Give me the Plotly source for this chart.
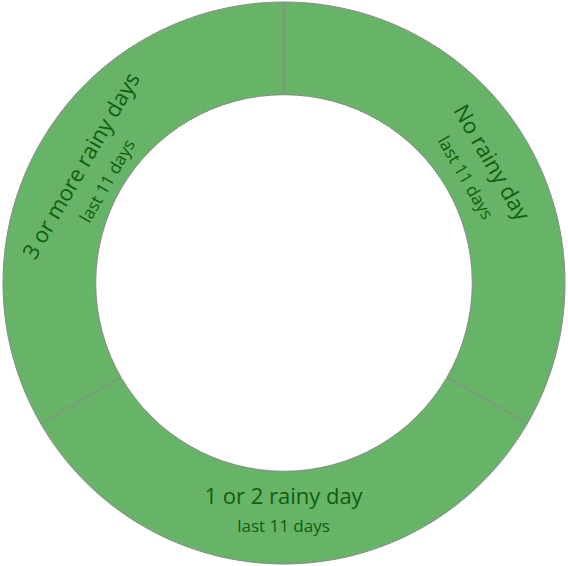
import plotly.graph_objects as go

categories = ["No rainy day", "1 or 2 rainy day", "3 or more rainy days"]
sublabels = ["last 11 days", "last 11 days", "last 11 days"]
values = [1, 1, 1]

texts = [
    f"{c}<br><span style='font-size:17px'>{s}</span>"
    for c, s in zip(categories, sublabels)
]

fig = go.Figure(
    go.Pie(
        labels=categories,
        values=values,
        text=texts,
        textinfo="text",
        textposition="inside",
        insidetextorientation="tangential",
        hole=0.67,
        sort=False,
        direction="clockwise",
        rotation=0,
        marker=dict(colors=["#67b367"] * 3, line=dict(color="#8a8a8a", width=1)),
        textfont=dict(family="Open Sans", size=22, color="#0f5f0f"),
        hoverinfo="none",
        showlegend=False,
    )
)

fig.update_layout(
    width=568,
    height=566,
    margin=dict(l=2, r=2, t=2, b=2),
    paper_bgcolor="white",
    plot_bgcolor="white",
)

fig.write_html(
    "out.html",
    config={"displayModeBar": False},
    post_script="document.body.style.margin='0';document.body.style.overflow='hidden';",
)
